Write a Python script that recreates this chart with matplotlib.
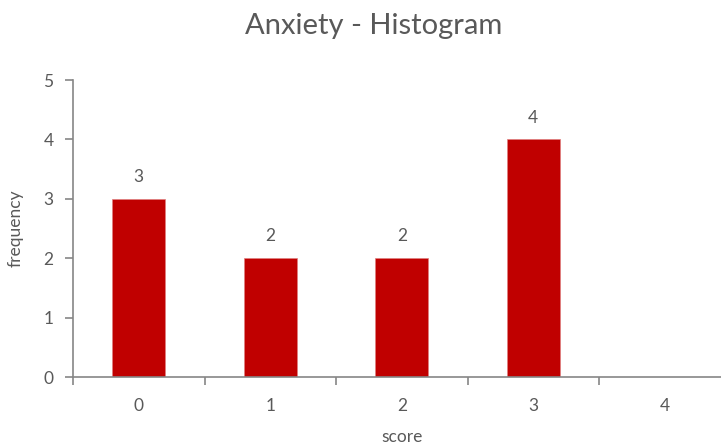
import matplotlib.pyplot as plt

scores = ['0', '1', '2', '3', '4']
frequency = [3, 2, 2, 4, 0]
y_ticks = [0, 1, 2, 3, 4, 5]

BAR_RED = '#C00000'
AXIS_GREY = '#868686'
TEXT_GREY = '#595959'

plt.rcParams['font.family'] = ['Lato', 'DejaVu Sans']

fig = plt.figure(figsize=(7.21, 4.48), dpi=100)
ax = fig.add_axes([73 / 721, 1 - 377 / 448, (730.5 - 73) / 721, (377 - 80) / 448])

pos = list(range(len(scores)))
bars = ax.bar(pos, frequency, width=0.4, color=BAR_RED, edgecolor='#E08080', linewidth=0.5)

# value labels only on bars that exist
for x, v in zip(pos, frequency):
    if v > 0:
        ax.annotate(str(v), (x, v), xytext=(0, 10), textcoords='offset points',
                    ha='center', va='bottom', fontsize=12.5, color=TEXT_GREY)

ax.set_xlim(-0.5, len(scores) - 0.5)
ax.set_ylim(0, 5)
ax.set_yticks(y_ticks)

# category ticks sit on boundaries, labels in the middle
ax.set_xticks([p - 0.5 for p in pos] + [len(scores) - 0.5])
ax.set_xticklabels([])
ax.set_xticks(pos, minor=True)
ax.set_xticklabels(scores, minor=True)
ax.tick_params(axis='x', which='minor', length=0, pad=15, labelsize=12.5, labelcolor=TEXT_GREY)
ax.tick_params(axis='x', which='major', length=6, width=1.2, color=AXIS_GREY, direction='out')
ax.tick_params(axis='y', length=6, width=1.2, color=AXIS_GREY, direction='out',
               pad=8, labelsize=12.5, labelcolor=TEXT_GREY)

for side in ('top', 'right'):
    ax.spines[side].set_visible(False)
for side in ('left', 'bottom'):
    ax.spines[side].set_color(AXIS_GREY)
    ax.spines[side].set_linewidth(1.2)

ax.set_xlabel('score', fontsize=12.5, color=TEXT_GREY, labelpad=11)
ax.set_ylabel('frequency', fontsize=12.5, color=TEXT_GREY, labelpad=14)
fig.text(374 / 721, 1 - 26 / 448, 'Anxiety - Histogram', ha='center', va='center',
         fontsize=21, color=TEXT_GREY)

fig.savefig('out.png', dpi=100)
